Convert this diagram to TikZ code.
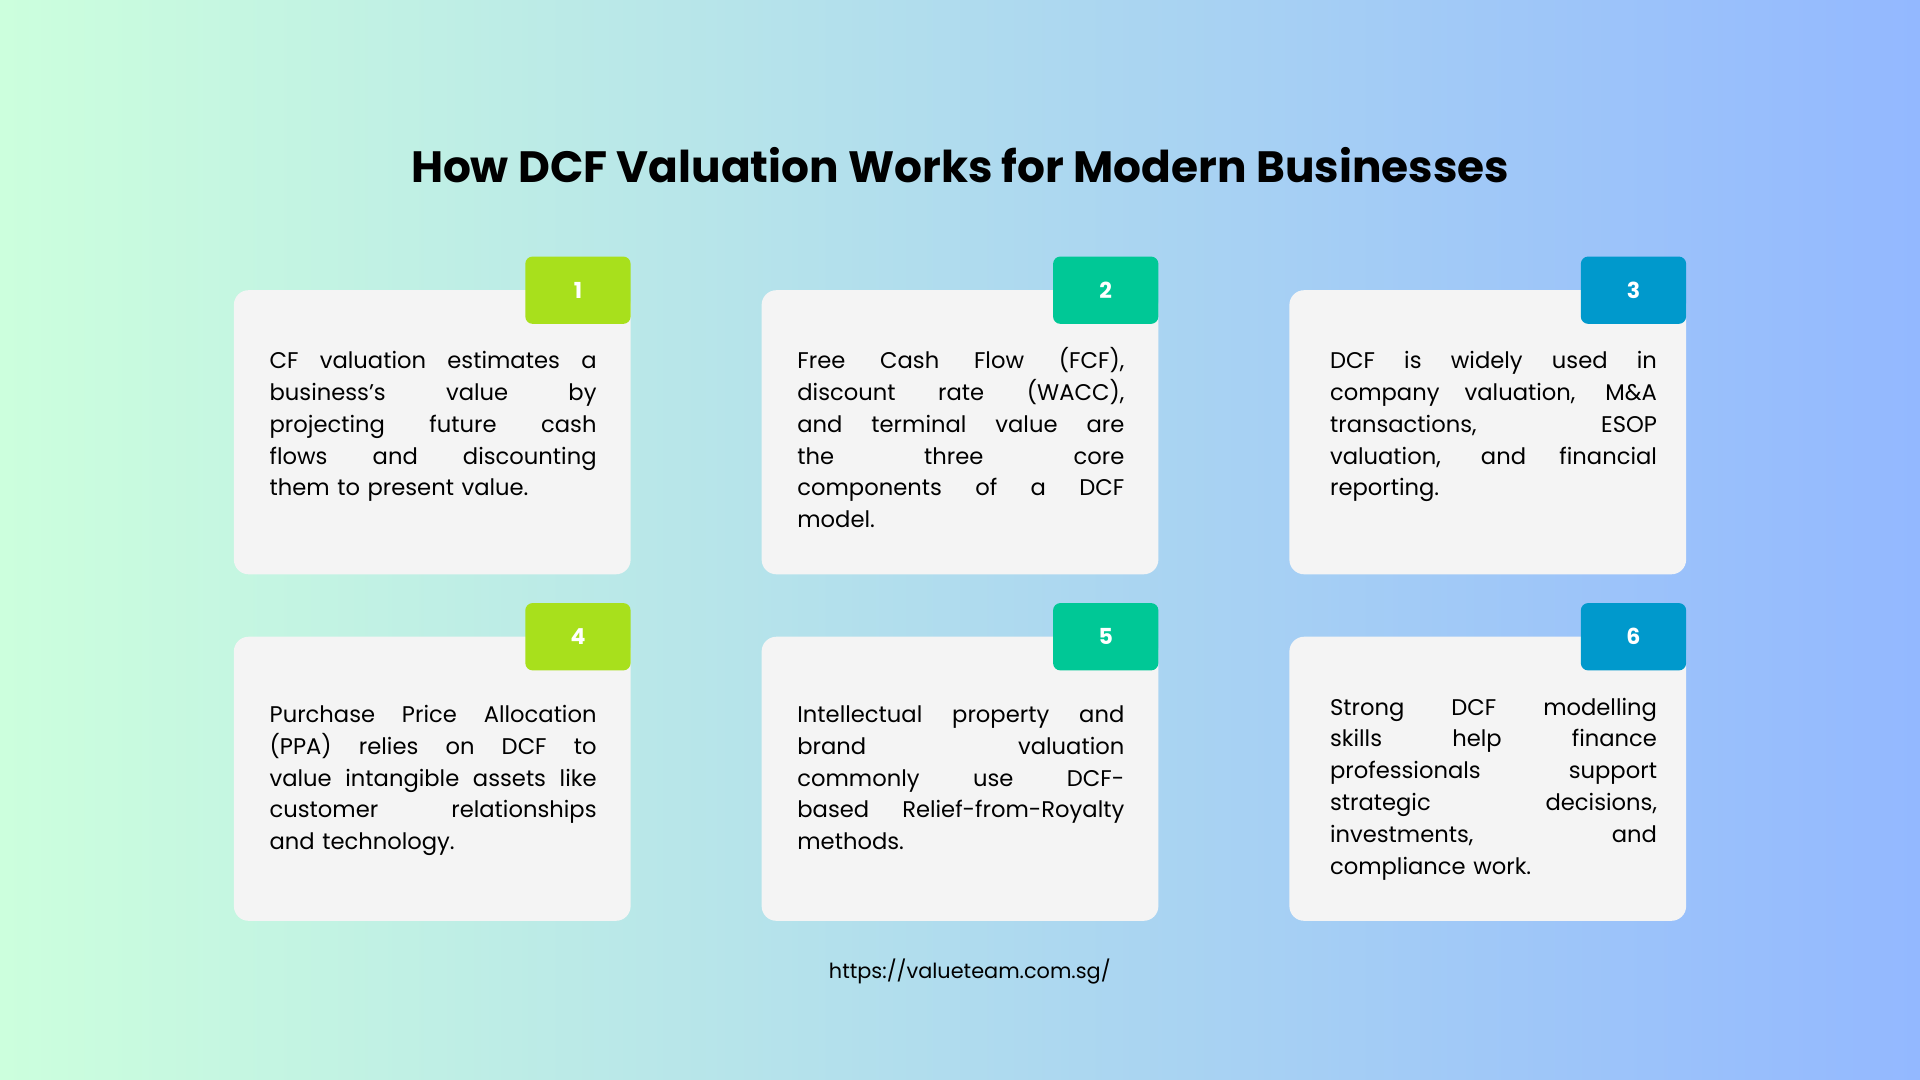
\documentclass[tikz,border=0pt]{standalone}
\usepackage{fontspec}
\setmainfont{Poppins}
\newfontfamily\titlefont{Poppins}
\newcommand\jl[1]{\leavevmode\hbox to 267pt{\spaceskip=0.25em plus 1fil\relax #1}}
\begin{document}
\begin{tikzpicture}[x=1pt,y=-1pt,
  card/.style={fill=cardc,rounded corners=12pt,draw=none},
  badge/.style={rounded corners=6pt,minimum width=86pt,minimum height=55pt,text=white,font=\titlefont\bfseries\fontsize{18}{20}\selectfont,inner sep=0pt},
  body/.style={anchor=base west,text width=267pt,align=left,inner sep=0pt,font=\fontsize{18.5}{26}\selectfont}]
\definecolor{cardc}{HTML}{F4F4F4}
\definecolor{limec}{HTML}{A8E01C}
\definecolor{tealc}{HTML}{00C896}
\definecolor{bluec}{HTML}{0099CC}
\definecolor{bgl}{HTML}{CCFFDD}
\definecolor{bgr}{HTML}{93B8FF}
\shade[left color=bgl,right color=bgr] (0,0) rectangle (1568,882);
\useasboundingbox (0,0) rectangle (1568,882);
\node[font=\titlefont\bfseries\fontsize{35.8}{40}\selectfont] (title) at (784,135) {How DCF Valuation Works for Modern Businesses};
\foreach \n/\x/\y/\c in {1/191/237/limec,2/622/237/tealc,3/1053/237/bluec,4/191/520/limec,5/622/520/tealc,6/1053/520/bluec}{
  \fill[card] (\x,\y) rectangle ++(324,232);
  \node[badge,fill=\c] (b\n) at (\x+281,\y+0) {\n};
}
\node[body] (t1) at (220,301) {\jl{CF valuation estimates a}\\\jl{business’s value by}\\\jl{projecting future cash}\\\jl{flows and discounting}\\them to present value.};
\node[body] (t2) at (651,301) {\jl{Free Cash Flow (FCF),}\\\jl{discount rate (WACC),}\\\jl{and terminal value are}\\\jl{the three core}\\\jl{components of a DCF}\\model.};
\node[body] (t3) at (1086,301) {\jl{DCF is widely used in}\\\jl{company valuation, M\&A}\\\jl{transactions, ESOP}\\\jl{valuation, and financial}\\reporting.};
\node[body] (t4) at (220,590) {\jl{Purchase Price Allocation}\\\jl{(PPA) relies on DCF to}\\\jl{value intangible assets like}\\\jl{customer relationships}\\and technology.};
\node[body] (t5) at (651,590) {\jl{Intellectual property and}\\\jl{brand valuation}\\\jl{commonly use DCF-}\\\jl{based Relief-from-Royalty}\\methods.};
\node[body] (t6) at (1086,584) {\jl{Strong DCF modelling}\\\jl{skills help finance}\\\jl{professionals support}\\\jl{strategic decisions,}\\\jl{investments, and}\\compliance work.};
\node[font=\fontsize{17}{20}\selectfont] (url) at (792,793) {https://valueteam.com.sg/};
\end{tikzpicture}
\end{document}
